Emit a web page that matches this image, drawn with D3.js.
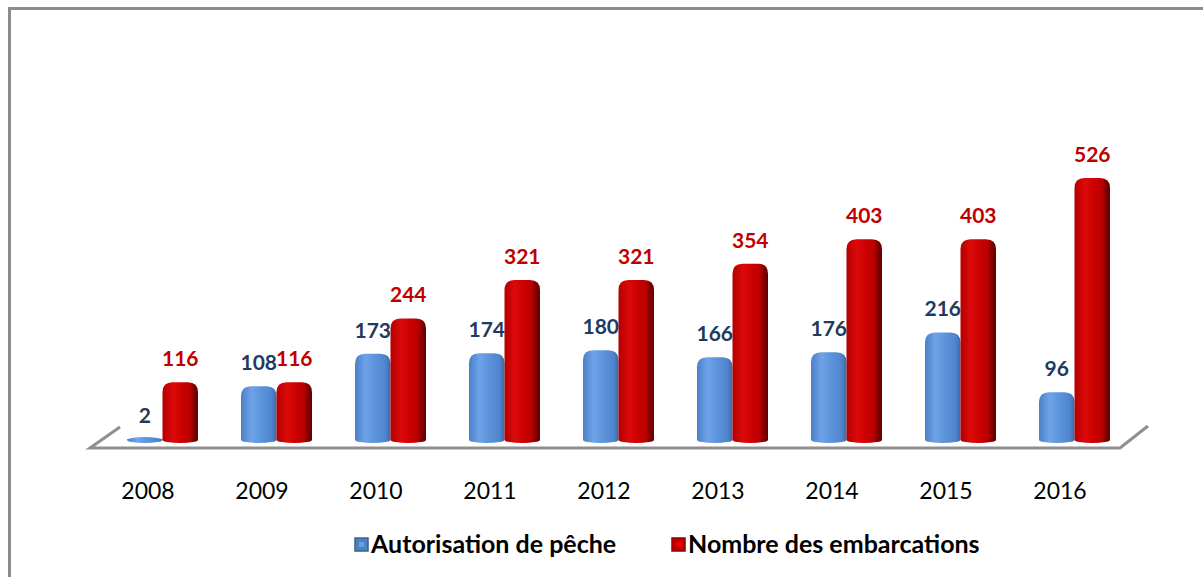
<!DOCTYPE html>
<html lang="fr">
<head>
    <meta charset="utf-8">
    <title>Autorisation de pêche et embarcations</title>
    <script src="https://d3js.org/d3.v7.min.js"></script>
    <style>
        body { margin: 0; background: #fff; }
        svg { display: block; font-family: Lato, "Open Sans", sans-serif; }
    </style>
</head>
<body>
<div id="chart"></div>
<script>
    // Data
    const years = ["2008", "2009", "2010", "2011", "2012", "2013", "2014", "2015", "2016"];
    const autorisations = [2, 108, 173, 174, 180, 166, 176, 216, 96];
    const embarcations = [116, 116, 244, 321, 321, 354, 403, 403, 526];
    const seriesNames = ["Autorisation de pêche", "Nombre des embarcations"];

    const W = 1203, H = 577;

    const svg = d3.select("#chart").append("svg")
        .attr("width", W)
        .attr("height", H);

    // Gradients (cylinder look)
    const defs = svg.append("defs");
    function cylGrad(id, stops) {
        const g = defs.append("linearGradient").attr("id", id)
            .attr("x1", "0%").attr("x2", "100%").attr("y1", "0%").attr("y2", "0%");
        stops.forEach(([o, c]) => g.append("stop").attr("offset", o).attr("stop-color", c));
    }
    cylGrad("gBlue", [["0%", "#4a80c8"], ["30%", "#6fa3e8"], ["55%", "#5d94dc"], ["85%", "#4f86cf"], ["100%", "#3d6aa8"]]);
    cylGrad("gRed", [["0%", "#b40000"], ["30%", "#dc0a0a"], ["55%", "#cc0000"], ["78%", "#b80000"], ["86%", "#8a0000"], ["100%", "#600000"]]);

    const fills = ["url(#gBlue)", "url(#gRed)"];
    const labelColors = ["#1f3a60", "#c00000"];
    const swatchColors = ["#4f81bd", "#c00000"];

    // Frame
    svg.append("rect")
        .attr("x", 9.5).attr("y", 8.5)
        .attr("width", W + 20).attr("height", H + 20)
        .attr("fill", "none")
        .attr("stroke", "#8c8c8c")
        .attr("stroke-width", 3);

    // Scales
    const x = d3.scaleBand().domain(years).range([91, 1117]);
    const inner = d3.scaleBand().domain([0, 1]).range([-21, 50]);
    const y = d3.scaleLinear().domain([0, 526]).range([440, 178]);

    // Floor
    const floorY = 448;
    svg.append("path")
        .attr("d", `M120,427 L90,${floorY} L1120,${floorY} L1148,426`)
        .attr("fill", "none")
        .attr("stroke", "#8f8f8f")
        .attr("stroke-width", 3);

    // X axis
    const axis = svg.append("g")
        .attr("transform", `translate(0,${floorY})`)
        .call(d3.axisBottom(x).tickSize(0).tickPadding(35));
    axis.select(".domain").remove();
    axis.selectAll("text")
        .attr("font-family", "Lato, sans-serif")
        .attr("font-size", 23)
        .attr("fill", "#000");

    // Bars
    function barPath(x0, w, top, bottom) {
        const r = Math.min(10, Math.max(0, bottom - top));
        return `M${x0},${bottom} L${x0},${top + r} Q${x0},${top} ${x0 + r},${top}` +
            ` L${x0 + w - r},${top} Q${x0 + w},${top} ${x0 + w},${top + r} L${x0 + w},${bottom} Z`;
    }

    const rows = years.map((yr, i) => ({ year: yr, values: [autorisations[i], embarcations[i]] }));
    const bw = inner.bandwidth();

    const groups = svg.append("g").selectAll("g")
        .data(rows)
        .join("g")
        .attr("transform", d => `translate(${x(d.year) + x.bandwidth() / 2},0)`);

    [0, 1].forEach(s => {
        groups.append("ellipse")
            .attr("cx", inner(s) + bw / 2)
            .attr("cy", y(0))
            .attr("rx", bw / 2)
            .attr("ry", 3)
            .attr("fill", fills[s]);
        groups.append("path")
            .attr("d", d => barPath(inner(s), bw, y(d.values[s]), y(0)))
            .attr("fill", fills[s]);
        groups.append("text")
            .attr("x", inner(s) + bw / 2)
            .attr("y", d => y(d.values[s]) - 16)
            .attr("text-anchor", "middle")
            .attr("font-size", 21)
            .attr("font-weight", "bold")
            .attr("fill", labelColors[s])
            .text(d => d.values[s]);
    });

    // Legend
    const legend = svg.append("g");
    const legendX = [355, 672];
    seriesNames.forEach((name, s) => {
        const g = legend.append("g").attr("transform", `translate(${legendX[s]},538)`);
        g.append("rect")
            .attr("width", 13).attr("height", 13)
            .attr("fill", swatchColors[s])
            .attr("stroke", d3.color(swatchColors[s]).darker(0.8))
            .attr("stroke-width", 1.5);
        g.append("rect")
            .attr("x", 4).attr("y", 4).attr("width", 5).attr("height", 5)
            .attr("fill", d3.color(swatchColors[s]).brighter(0.6));
        g.append("text")
            .attr("x", 16).attr("y", 15)
            .attr("font-size", 25)
            .attr("font-weight", "bold")
            .attr("fill", "#000")
            .text(name);
    });
</script>
</body>
</html>
